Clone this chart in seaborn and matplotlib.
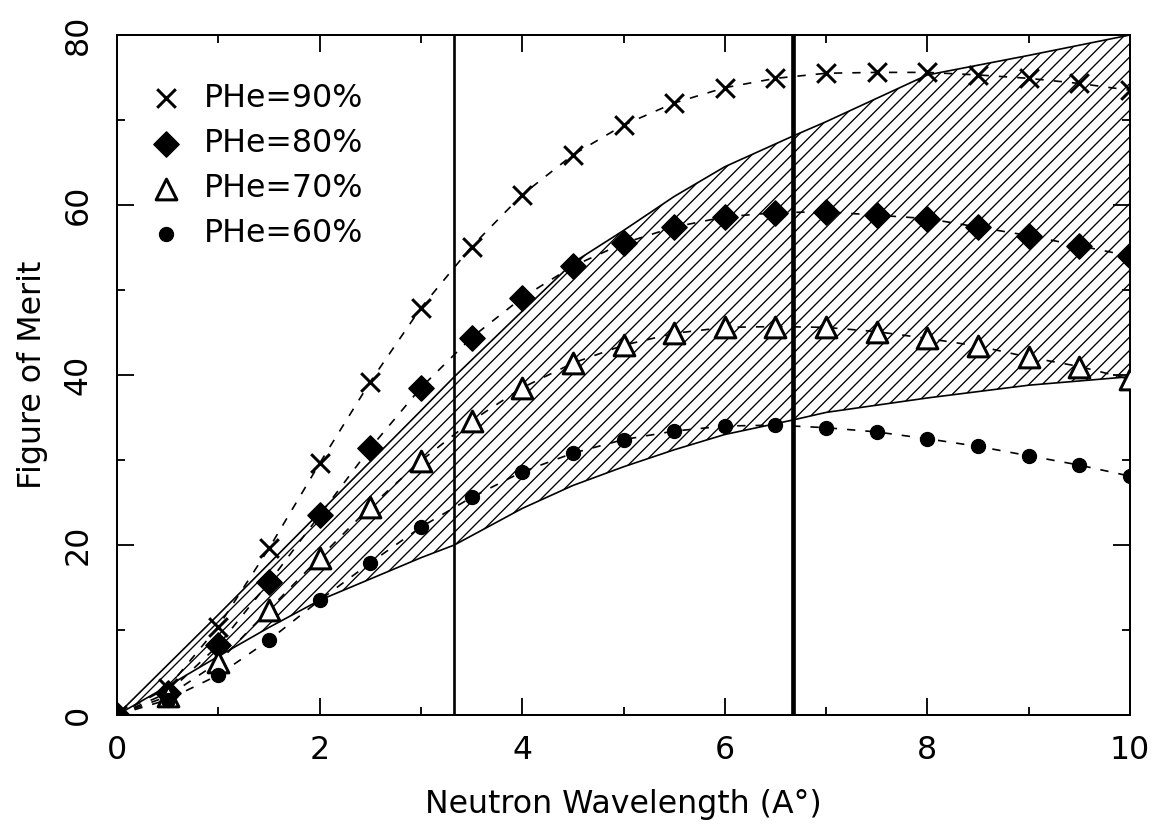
import matplotlib
matplotlib.use("Agg")
import matplotlib.pyplot as plt
import seaborn as sns
import pandas as pd

# --- Data ---
wavelength = [0, 0.5, 1, 1.5, 2, 2.5, 3, 3.5, 4, 4.5, 5,
              5.5, 6, 6.5, 7, 7.5, 8, 8.5, 9, 9.5, 10]
fom_90 = [0, 3.2, 10.4, 19.6, 29.6, 39.2, 47.9, 55.1, 61.2, 65.9, 69.4,
          72.0, 73.8, 74.9, 75.5, 75.6, 75.6, 75.3, 74.9, 74.3, 73.5]
fom_80 = [0, 2.6, 8.2, 15.6, 23.5, 31.4, 38.5, 44.4, 49.1, 52.8, 55.5,
          57.4, 58.6, 59.1, 59.2, 58.8, 58.4, 57.4, 56.4, 55.2, 54.0]
fom_70 = [0, 2.2, 6.2, 12.4, 18.5, 24.5, 29.9, 34.6, 38.5, 41.4, 43.5,
          44.9, 45.6, 45.7, 45.6, 45.1, 44.3, 43.4, 42.1, 41.0, 39.5]
fom_60 = [0, 1.8, 4.7, 8.8, 13.5, 17.9, 22.1, 25.6, 28.6, 30.8, 32.4,
          33.4, 34.0, 34.1, 33.8, 33.3, 32.5, 31.6, 30.5, 29.4, 28.1]

band_x = [0, 0.5, 1, 1.5, 2, 2.5, 3, 3.33, 4, 4.5, 5, 5.5, 6, 6.67, 7, 8, 9, 10]
band_upper = [0, 5.9, 11.8, 17.8, 23.8, 29.8, 35.8, 39.8, 47.5, 53.2, 57.0,
              61.0, 64.5, 68.1, 69.8, 75.3, 77.6, 80.0]
band_lower = [0, 3.4, 6.9, 10.3, 13.5, 16.0, 18.5, 20.0, 24.3, 27.0, 29.2,
              31.2, 33.0, 34.7, 35.6, 37.3, 38.8, 39.8]

cut_lines = [3.33, 6.67]
labels = ["PHe=90%", "PHe=80%", "PHe=70%", "PHe=60%"]

df = pd.DataFrame({
    "wavelength": wavelength * 4,
    "fom": fom_90 + fom_80 + fom_70 + fom_60,
    "series": [lab for lab in labels for _ in wavelength],
})

# --- Style ---
sns.set_style("ticks")
plt.rcParams["font.family"] = ["DejaVu Sans"]
plt.rcParams.update({
    "hatch.linewidth": 0.8,
    "text.color": "black",
    "axes.labelcolor": "black",
    "axes.edgecolor": "black",
    "xtick.color": "black",
    "ytick.color": "black",
})
FS = 19

fig = plt.figure(figsize=(1154 / 120, 839 / 120), dpi=120)
ax = fig.add_axes((117 / 1154, 1 - 715 / 839, 1013 / 1154, 680 / 839))

# hatched band
ax.fill_between(band_x, band_lower, band_upper, facecolor="none",
                edgecolor="black", hatch="///", linewidth=1.0, zorder=1)

# dashed connecting curves
for lab in labels:
    sub = df[df["series"] == lab]
    sns.lineplot(data=sub, x="wavelength", y="fom", color="black", lw=1.0,
                 linestyle=(0, (5, 6)), errorbar=None, legend=False, ax=ax, zorder=2)

# markers
marker_opts = {
    "PHe=90%": dict(marker="x", s=125, color="black", linewidth=1.8),
    "PHe=80%": dict(marker="D", s=115, color="black", edgecolor="black"),
    "PHe=70%": dict(marker="^", s=155, facecolor="white", edgecolor="black", linewidth=1.8),
    "PHe=60%": dict(marker="o", s=72, color="black", edgecolor="black"),
}
for lab in labels:
    sub = df[df["series"] == lab]
    sns.scatterplot(data=sub, x="wavelength", y="fom", label=lab, ax=ax,
                    zorder=3, **marker_opts[lab])

ax.axvline(cut_lines[0], color="black", lw=1.6, zorder=2)
ax.axvline(cut_lines[1], color="black", lw=2.8, zorder=2)

ax.set_xlim(0, 10)
ax.set_ylim(0, 80)
ax.set_xticks([0, 2, 4, 6, 8, 10])
ax.set_xticks([1, 3, 5, 7, 9], minor=True)
ax.set_yticks([0, 20, 40, 60, 80])
ax.set_yticks([10, 30, 50, 70], minor=True)
ax.tick_params(which="both", direction="in", top=True, right=True, width=1.1)
ax.tick_params(which="major", length=10, labelsize=FS)
ax.tick_params(which="minor", length=5)
ax.tick_params(axis="x", pad=12)
ax.tick_params(axis="y", pad=14)
for t in ax.get_yticklabels():
    t.set_rotation(90)
    t.set_va("center")
for sp in ax.spines.values():
    sp.set_linewidth(1.2)

ax.set_xlabel("Neutron Wavelength (A\u00b0)", fontsize=FS, labelpad=14)
ax.set_ylabel("Figure of Merit", fontsize=FS, labelpad=9)

ax.legend(loc="upper left", bbox_to_anchor=(0.033, 0.93), frameon=False,
          fontsize=FS, handlelength=1.0, handletextpad=0.7, labelspacing=0.45,
          borderaxespad=0, borderpad=0)

fig.savefig("out.png", dpi=120)
